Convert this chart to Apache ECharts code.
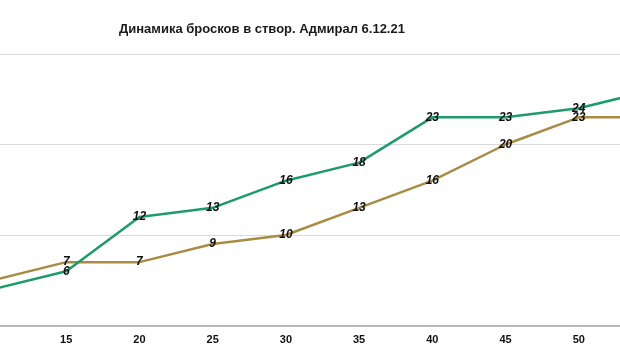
<!DOCTYPE html>
<html>
<head>
<meta charset="utf-8">
<script src="https://cdn.jsdelivr.net/npm/echarts@6/dist/echarts.min.js"></script>
<style>html,body{margin:0;padding:0;background:#fff;}#c{width:620px;height:364px;}</style>
</head>
<body>
<div id="c"></div>
<script>
var categories = ['10','15','20','25','30','35','40','45','50','55'];
var greenSeries = [4, 6, 12, 13, 16, 18, 23, 23, 24, 26];
var goldSeries = [5, 7, 7, 9, 10, 13, 16, 20, 23, 23];
var titleText = 'Динамика бросков в створ. Адмирал 6.12.21';

var chart = echarts.init(document.getElementById('c'), null, {renderer: 'canvas'});
var labelStyle = {
  show: true, position: 'inside', fontFamily: 'Liberation Sans, Arial, sans-serif',
  fontSize: 12, fontWeight: 'bold', fontStyle: 'italic', color: '#111'
};
chart.setOption({
  backgroundColor: '#fff',
  animation: false,
  title: {
    text: titleText, left: 114, top: 18,
    textStyle: {fontFamily: 'Liberation Sans, Arial, sans-serif', fontSize: 13, fontWeight: 'bold', color: '#1a1a1a'}
  },
  grid: {left: -7, right: -32, top: 54, bottom: 38.5, containLabel: false, outerBoundsMode: 'none'},
  xAxis: {
    type: 'category', data: categories, boundaryGap: false,
    axisLine: {lineStyle: {color: '#a6a6a6', width: 1.5}},
    axisTick: {show: false},
    axisLabel: {fontFamily: 'Liberation Sans, Arial, sans-serif', fontSize: 11, fontWeight: 'bold', color: '#111', margin: 9}
  },
  yAxis: {
    type: 'value', min: 0, max: 30, interval: 10,
    axisLabel: {show: false}, axisLine: {show: false}, axisTick: {show: false},
    splitLine: {lineStyle: {color: '#d9d9d9', width: 1}}
  },
  series: [
    {
      type: 'line', data: goldSeries, symbol: 'circle', symbolSize: 1, clip: true,
      lineStyle: {color: '#a88c44', width: 2.5}, itemStyle: {color: 'rgba(0,0,0,0)'},
      label: labelStyle, z: 2
    },
    {
      type: 'line', data: greenSeries, symbol: 'circle', symbolSize: 1, clip: true,
      lineStyle: {color: '#1e9b6b', width: 2.5}, itemStyle: {color: 'rgba(0,0,0,0)'},
      label: labelStyle, z: 3
    }
  ]
});
</script>
</body>
</html>
